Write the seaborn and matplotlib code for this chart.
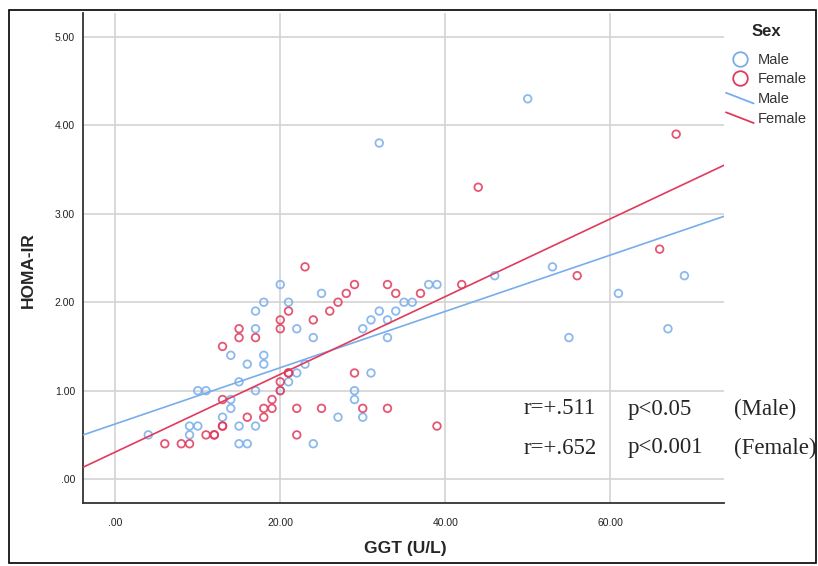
import numpy as np
import pandas as pd
import matplotlib
matplotlib.use("Agg")
import matplotlib.pyplot as plt
from matplotlib.lines import Line2D
from matplotlib.patches import Rectangle
from matplotlib.legend_handler import HandlerBase
import seaborn as sns

# GGT (U/L) and HOMA-IR
male_ggt = [50, 32, 46, 53, 69, 61, 67, 55,
            20, 18, 21, 25, 38, 39, 35, 36, 32, 34, 31, 33, 30, 33,
            17, 17, 22, 24, 14, 18, 16, 18, 23, 22, 15, 21, 10, 11, 17, 20,
            31, 29, 29, 14, 14, 13, 27, 30, 9, 10, 15, 17, 4, 9, 15, 16, 24]
male_homa = [4.3, 3.8, 2.3, 2.4, 2.3, 2.1, 1.7, 1.6,
             2.2, 2.0, 2.0, 2.1, 2.2, 2.2, 2.0, 2.0, 1.9, 1.9, 1.8, 1.8, 1.7, 1.6,
             1.9, 1.7, 1.7, 1.6, 1.4, 1.4, 1.3, 1.3, 1.3, 1.2, 1.1, 1.1, 1.0, 1.0, 1.0, 1.0,
             1.2, 1.0, 0.9, 0.9, 0.8, 0.7, 0.7, 0.7, 0.6, 0.6, 0.6, 0.6, 0.5, 0.5, 0.4, 0.4, 0.4]

female_ggt = [68, 44, 66, 56, 42, 23, 29, 28, 27, 26, 24, 21, 20, 20, 15, 15, 17, 33, 34, 37,
              13, 21, 21, 20, 20, 29, 13, 19, 18, 19, 22, 25, 30, 33, 16, 18, 13, 13, 39,
              11, 12, 12, 22, 6, 8, 9]
female_homa = [3.9, 3.3, 2.6, 2.3, 2.2, 2.4, 2.2, 2.1, 2.0, 1.9, 1.8, 1.9, 1.8, 1.7, 1.7, 1.6, 1.6, 2.2, 2.1, 2.1,
               1.5, 1.2, 1.2, 1.1, 1.0, 1.2, 0.9, 0.9, 0.8, 0.8, 0.8, 0.8, 0.8, 0.8, 0.7, 0.7, 0.6, 0.6, 0.6,
               0.5, 0.5, 0.5, 0.5, 0.4, 0.4, 0.4]

sexes = ["Male", "Female"]
palette = {"Male": "#78adeb", "Female": "#e03a5c"}

x_ticks = [0, 20, 40, 60]
x_ticklabels = [".00", "20.00", "40.00", "60.00"]
y_ticks = [0, 1, 2, 3, 4, 5]
y_ticklabels = [".00", "1.00", "2.00", "3.00", "4.00", "5.00"]

stats_lines = [("r=+.511", "p<0.05", "(Male)"),
               ("r=+.652", "p<0.001", "(Female)")]

df = pd.DataFrame({
    "GGT": male_ggt + female_ggt,
    "HOMA": male_homa + female_homa,
    "Sex": ["Male"] * len(male_ggt) + ["Female"] * len(female_ggt),
})

sns.set_style("white")
plt.rcParams["font.family"] = ["Liberation Sans", "DejaVu Sans"]


class DiagLineHandler(HandlerBase):
    # SPSS draws fit-line legend keys as a short slanted line
    def create_artists(self, legend, orig_handle, xdescent, ydescent,
                       width, height, fontsize, trans):
        line = Line2D([-xdescent, -xdescent + width],
                      [-ydescent + height * 1.0, -ydescent - height * 0.05],
                      color=orig_handle.get_color(),
                      lw=orig_handle.get_linewidth(), transform=trans)
        return [line]


fig = plt.figure(figsize=(8.18, 5.66), dpi=100)
W, H = 818, 566
ax = fig.add_axes([83.4 / W, (H - 503) / H, (724 - 83.4) / W, (503 - 13) / H])

ax.set_xlim(-3.87, 73.8)
ax.set_ylim(-0.27, 5.27)

for sex in sexes:
    sub = df[df["Sex"] == sex]
    sns.scatterplot(data=sub, x="GGT", y="HOMA", ax=ax, marker="o", s=30,
                    facecolor="none", edgecolor=palette[sex], linewidth=1.3,
                    alpha=0.85, zorder=3)
    sns.regplot(data=sub, x="GGT", y="HOMA", ax=ax, scatter=False, ci=None,
                truncate=False, color=palette[sex],
                line_kws={"lw": 1.2, "zorder": 4})

ax.set_xlim(-3.87, 73.8)
ax.set_ylim(-0.27, 5.27)

ax.set_xticks(x_ticks)
ax.set_xticklabels(x_ticklabels)
ax.set_yticks(y_ticks)
ax.set_yticklabels(y_ticklabels)
ax.tick_params(axis="both", length=0, labelsize=7.5, colors="#222222")
ax.tick_params(axis="x", pad=11)
ax.tick_params(axis="y", pad=6)

ax.grid(True, color="#d3d3d3", lw=1.2)
ax.set_axisbelow(True)
for side in ["top", "right"]:
    ax.spines[side].set_visible(False)
for side in ["left", "bottom"]:
    ax.spines[side].set_color("#333333")
    ax.spines[side].set_linewidth(1.3)

ax.set_xlabel("")
ax.set_ylabel("")
fig.text(405 / W, 1 - 548 / H, "GGT (U/L)", ha="center", va="center",
         fontsize=12.5, fontweight="bold")
fig.text(28 / W, 1 - 270 / H, "HOMA-IR", ha="center", va="center",
         rotation=90, fontsize=12.5, fontweight="bold")

# legend: markers then fit lines
handles = []
labels = []
for sex in sexes:
    handles.append(Line2D([], [], marker="o", ls="none", ms=10.5, mfc="none",
                          mec=palette[sex], mew=1.3))
    labels.append(sex)
for sex in sexes:
    handles.append(Line2D([], [], color=palette[sex], lw=1.3))
    labels.append(sex)

leg = fig.legend(handles, labels, title="Sex", loc="upper left",
                 bbox_to_anchor=(726 / W, 1 - 24 / H), frameon=False,
                 fontsize=10.5, title_fontproperties={"weight": "bold", "size": 12},
                 handlelength=1.9, handletextpad=0.25, labelspacing=0.38,
                 borderaxespad=0, borderpad=0,
                 handler_map={h: DiagLineHandler() for h in handles[2:]})
leg._legend_box.sep = 10
for t in leg.get_texts():
    t.set_color("#333333")

# correlation annotations
for i, (r_txt, p_txt, who) in enumerate(stats_lines):
    y = 1 - (409 + 39 * i) / H
    for xpix, txt in zip([524, 628, 734], [r_txt, p_txt, who]):
        fig.text(xpix / W, y, txt, ha="left", va="center", fontsize=16.5,
                 family=["Liberation Serif", "DejaVu Serif"])

# outer frame of the exported chart
fig.patches.append(Rectangle((9 / W, 3 / H), (816 - 9) / W, (556 - 3) / H,
                             transform=fig.transFigure, fill=False,
                             ec="black", lw=1.2))

fig.savefig("out.png", dpi=100)
